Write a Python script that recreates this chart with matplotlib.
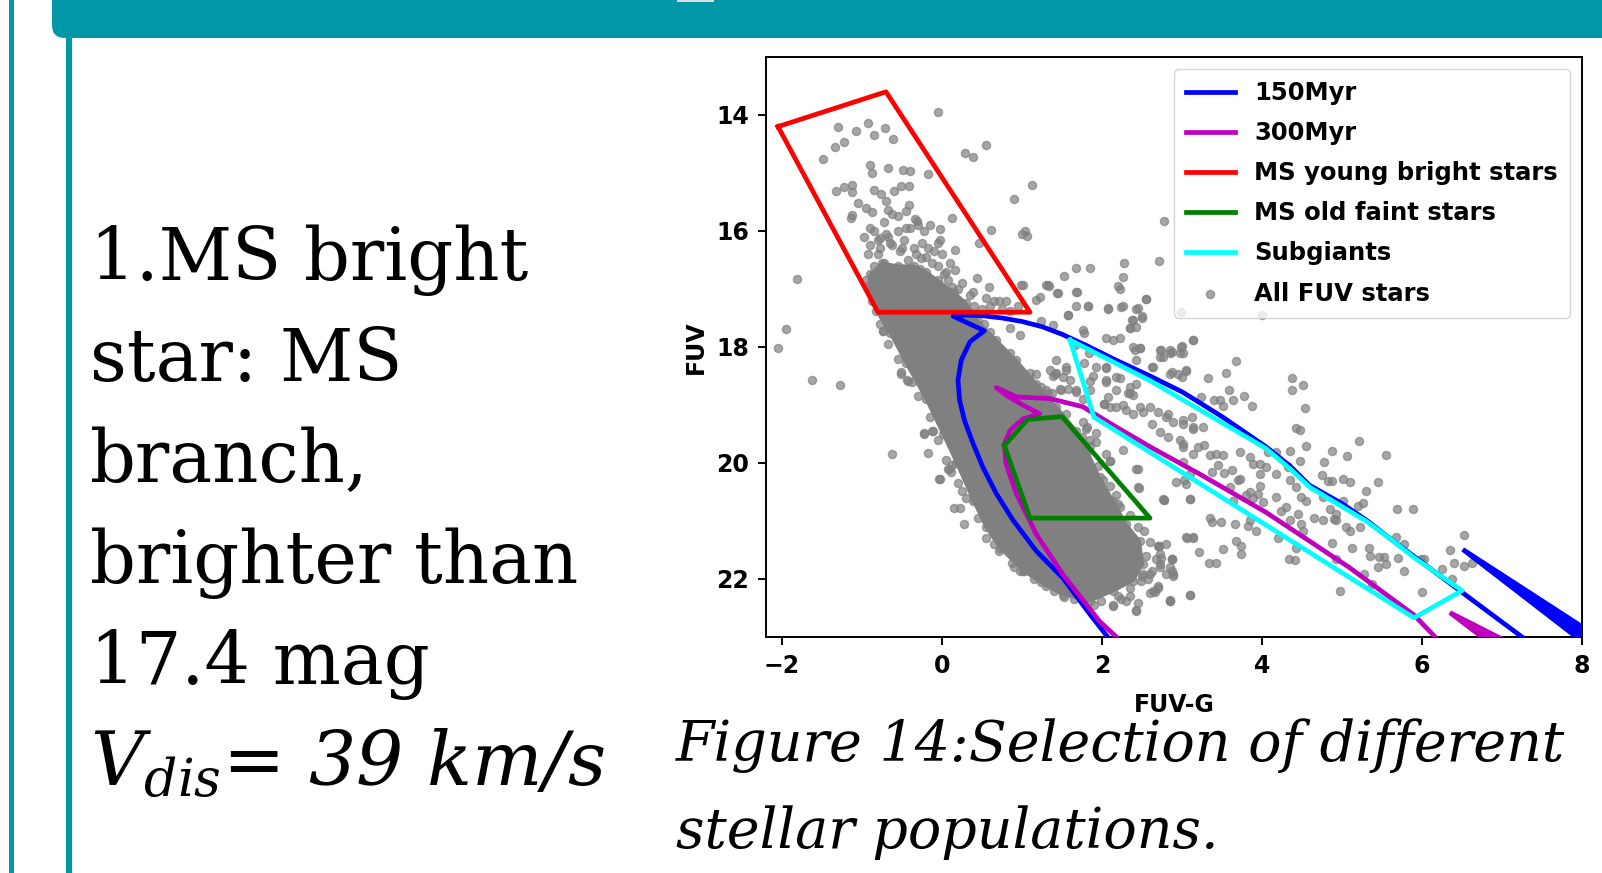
import matplotlib
matplotlib.use("Agg")
import matplotlib.pyplot as plt
from matplotlib.patches import Rectangle, FancyBboxPatch

plt.rcParams["mathtext.fontset"] = "custom"
plt.rcParams["mathtext.rm"] = "DejaVu Serif"
plt.rcParams["mathtext.it"] = "DejaVu Serif:italic"

# ---------------- data ----------------
# 150 Myr isochrone: main sequence, turn-off hook, then the evolved branch
iso150_color = [2.10, 1.85, 1.51, 1.18, 0.89, 0.68, 0.51, 0.39, 0.28, 0.22, 0.20, 0.24, 0.35, 0.53,
                0.14, 0.30, 0.50, 0.75, 1.00, 1.25, 1.50, 1.80, 2.18, 2.60, 3.01, 3.50, 4.05, 4.35, 4.59,
                5.00, 5.30, 5.60, 5.89, 6.51, 7.30]
iso150_mag = [23.05, 22.61, 21.98, 21.52, 20.99, 20.53, 20.07, 19.67, 19.26, 18.92, 18.57, 18.23, 17.91, 17.72,
              17.47, 17.45, 17.46, 17.50, 17.56, 17.65, 17.78, 17.97, 18.23, 18.50, 18.78, 19.20, 19.72, 20.05,
              20.38, 20.70, 20.98, 21.30, 21.60, 22.24, 23.05]
iso150_tail_color = [6.51, 8.20, 7.93]
iso150_tail_mag = [21.49, 23.00, 23.00]

# 300 Myr isochrone
iso300_color = [2.22, 1.97, 1.51, 1.18, 0.93, 0.80, 0.78, 0.85, 1.01, 1.22, 1.01, 0.80, 0.68,
                0.93, 1.35, 1.76, 2.18, 2.60, 3.22, 4.05, 5.09, 5.90, 6.20]
iso300_mag = [23.05, 22.73, 21.92, 21.23, 20.53, 20.01, 19.67, 19.44, 19.24, 19.15, 19.00, 18.83, 18.70,
              18.86, 18.89, 19.03, 19.38, 19.72, 20.19, 20.85, 21.80, 22.62, 23.05]
iso300_tail_color = [6.35, 6.95, 6.75]
iso300_tail_mag = [22.58, 23.00, 23.00]

# selection boxes
young_color = [-2.05, -0.70, 1.10, -0.80, -2.05]
young_mag = [14.20, 13.60, 17.40, 17.40, 14.20]

old_color = [0.78, 1.07, 1.50, 2.60, 1.10, 0.78]
old_mag = [19.70, 19.25, 19.20, 20.95, 20.95, 19.70]

subg_color = [1.60, 2.60, 4.05, 4.35, 4.60, 5.30, 5.60, 5.90, 6.50, 5.90, 1.90, 1.60]
subg_mag = [17.88, 18.58, 19.75, 20.10, 20.42, 21.00, 21.30, 21.63, 22.20, 22.67, 19.21, 17.88]

# outline of the densely populated main-sequence core
core_color = [-0.90, -0.75, -0.55, -0.35, -0.20, -0.05, 0.15, 0.30, 0.45, 0.68, 0.93, 1.18, 1.43, 1.68,
              1.82, 1.97, 2.14, 2.30, 2.47, 2.51, 2.39, 2.14, 1.85, 1.51, 1.30, 1.01, 0.72, 0.55, 0.39,
              0.18, 0.01, -0.20, -0.45, -0.65, -0.82, -0.92]
core_mag = [16.75, 16.55, 16.60, 16.60, 16.70, 16.85, 17.05, 17.24, 17.55, 17.88, 18.23, 18.63, 19.03, 19.44,
            19.80, 20.25, 20.65, 21.05, 21.34, 21.75, 22.03, 22.21, 22.38, 22.27, 22.12, 21.86, 21.46, 21.11,
            20.65, 20.00, 19.50, 18.90, 18.28, 17.76, 17.38, 16.95]

# individual FUV stars outside the dense core
star_color = [
    -0.05, 0.55, 0.29, 0.39, 1.12, 0.90, 1.04, 1.06, 1.00, 0.61, 0.46, 2.78, 2.71, 2.28, 2.26, 1.67, 1.85,
    1.53, 1.30, 1.34, 1.22, 1.18, 1.44, 1.68, 2.22, 2.55, 1.68, 1.83, 2.07, 2.24, 2.45, 2.50, 2.38, 2.35,
    1.58, 1.01, 0.80, 0.71, 0.59, 0.44, 0.39, 0.12, 0.16, 0.16, 0.12, 2.99, 4.00,
    1.76, 1.78, 2.05, 2.14, 2.22, 1.84, 1.66, 2.05, 1.89, 1.85, 2.05, 2.18, 2.39, 2.47, 2.73, 2.85, 2.72,
    2.62, 2.85, 2.43, 2.35, 2.10, 1.39, 1.43, 1.55, 1.49, 1.58, 1.68, 1.32, 1.43, 0.97, 0.85, 1.18, 1.03,
    -1.95, -2.05, -1.81, -1.62, -1.27, -0.74, -0.51, -0.42, -0.22, -0.11, -0.62, -0.17, -0.03, 0.09, 0.11,
    0.15, 0.22, 0.28, 0.25, 0.41,
    -1.30, -1.07, -0.92, -0.85, -0.71, -0.61, -1.23, -1.34, -1.49, -0.90, -0.88, -0.67, -0.49, -0.40, -0.17,
    -1.32, -1.22, -1.13, -1.12, -0.85, -0.76, -0.70, -0.60, -0.51, -0.41, -1.05, -0.95, -0.87, -1.13, -1.14,
    -0.68, -0.41, -0.90, -0.77, -0.72, -0.40, -0.34, -0.31, -0.15, -0.03, -0.03, -0.26,
    -0.97, -0.90, -0.85, -0.80, -0.70, -0.65, -0.55, -0.50, -0.45, -0.35, -0.30, -0.25, -0.20, -0.10,
    -0.05, 0.00, 0.05, 0.10, 0.20, 0.25, 0.35, 0.40, 0.50, 0.60, 0.65, 0.55, 0.75, 0.85, 0.95, -0.62,
    -0.55, -0.45, -0.80,
    -0.92, -0.85, -0.78, -0.72, -0.62, -0.58, -0.48, -0.42, -0.33, -0.28, -0.18, -0.12, -0.05, 0.02, 0.08,
    -0.95, -0.88, -0.68, -0.52, -0.22,
    -0.88, -0.78, -0.68, -0.55, -0.38, -0.30, -0.15, -0.05, 0.05, 0.20, 0.30, 0.45, 0.55, 0.65, 0.90, 1.15,
    1.40, 1.65, 1.90, 2.20, 2.35, 2.50, 2.55, 2.45, 2.35, 2.20, 2.10, 1.95, 1.85, 1.75, 1.55, 1.30, 1.10,
    0.85, 0.60, 0.52,
    0.71, 0.87, 0.98, 1.03, 1.24, 1.53, 1.76, 1.81, 1.93, 2.26, 2.10, 2.01, 2.45, 2.46, 2.77, 2.18, 2.22,
    2.60, 2.71, 2.53, 2.74, 2.87, 2.80, 2.89, 2.62, 2.58, 2.49, 2.60, 2.70, 2.45, 2.43, 2.35, 2.24, 2.14,
    1.99, 2.85, 2.93, 2.03,
    3.14, 2.74, 2.85, 2.98, 3.00, 3.67, 3.55, 3.33, 3.05, 3.00, 2.95, 3.59, 3.77, 3.64, 3.88, 3.48, 3.51,
    3.40, 3.24, 4.38, 4.51, 4.38, 4.54, 4.43, 4.48, 4.55, 4.35, 4.48, 4.87, 5.06, 5.21, 5.55, 4.78, 4.75,
    4.83, 4.88, 5.01, 5.10, 5.45, 5.30, 5.26, 5.20, 5.69, 5.89, 5.01, 4.85, 4.76, 4.90, 4.93, 4.65, 5.05,
    5.10, 5.22, 4.87, 5.12, 5.34, 5.35, 5.46, 5.53, 5.55, 5.45, 5.68, 5.78, 5.70, 5.77, 6.02, 5.99, 5.28,
    5.38, 6.00, 6.25, 6.35, 6.40, 6.52, 6.53, 6.63, 6.37, 4.97, 4.43, 4.34, 4.41, 4.93, 4.20, 3.89, 3.64,
    3.66, 3.74, 3.74, 3.68, 3.51, 3.93, 3.82, 3.85, 3.35, 3.37, 3.49, 3.10, 3.21, 3.06, 3.14, 3.34, 3.43,
    3.10, 2.85, 2.77, 2.71, 2.68, 2.72, 2.87, 2.70, 2.66, 2.85, 2.89,
    3.01, 3.14, 3.26, 3.01, 3.20, 3.28, 3.35, 3.43, 3.51, 3.45, 3.37, 3.53, 3.62, 3.72, 3.85, 3.80, 3.95,
    4.01, 3.97, 4.05, 4.18, 4.18, 4.24, 4.30, 4.35, 4.45, 4.49, 4.51, 3.97, 3.70, 3.60, 3.72, 3.85, 3.89,
    3.97, 4.08, 4.18, 4.33, 4.35, 4.43, 4.49, 4.55, 4.76, 4.93,
    -0.74, -0.51, -0.44, -0.22, -0.12, -0.04, 0.07, 0.13, 0.99, 1.33, 1.45, 1.69, 1.82, 1.58, 2.07, 2.26,
    2.43, 2.39, 2.50, 2.20, 2.55, 3.14, 2.35, 2.43, 1.24, 1.39, 2.41, 2.47, 2.87, 2.99, 3.01, 2.43, 2.76,
    2.64, 2.87, 3.05, 1.78, 1.93, 1.35, 1.41, 1.51, 1.60, 1.55, 1.47, 1.24, 1.37, 1.68, 1.76, 1.85, 2.05,
    2.18, 2.22, 2.05, 2.35, 2.33, 2.39, 2.03, 2.08, 2.18, 2.26, 2.30, 2.47, 2.39, 2.51, 2.60, 2.70, 2.80,
    2.82, 2.89, 3.01, 3.12, 3.14, 2.62, 2.72, 2.82, 2.97, 3.01, 3.14, 3.01, 3.10, 3.05, 1.80, 1.93, 1.85,
    2.05, 2.10, 2.43, 2.45, 2.76, 3.10, 3.03, 3.05, 3.14, 2.70, 2.80, 2.72, 2.87, 2.72, 2.87, 2.51, 2.60,
    2.64, 3.10, 2.85, 2.43, 2.30, 2.14,
]
star_mag = [
    13.94, 14.51, 14.65, 14.72, 15.21, 15.44, 16.00, 16.08, 16.06, 15.99, 16.20, 15.83, 16.52, 16.56, 16.80,
    16.64, 16.64, 16.77, 16.93, 16.95, 17.13, 17.19, 17.07, 17.05, 17.00, 17.17, 17.30, 17.30, 17.33, 17.31,
    17.33, 17.50, 17.53, 17.67, 17.45, 16.93, 17.21, 17.21, 16.96, 16.81, 17.06, 15.77, 16.32, 16.67, 16.96,
    17.39, 17.45,
    17.70, 17.76, 17.85, 17.88, 17.85, 18.11, 17.96, 18.34, 18.50, 18.58, 18.57, 18.74, 18.00, 18.02, 18.05,
    18.05, 18.17, 18.34, 18.46, 18.63, 18.80, 19.03, 18.50, 18.45, 18.34, 18.75, 18.72, 18.74, 18.80, 18.23,
    17.79, 17.68, 18.46, 18.46,
    17.69, 18.02, 16.83, 18.57, 18.65, 17.73, 18.46, 18.58, 19.50, 19.44, 19.85, 19.83, 20.27, 20.10, 20.16,
    20.77, 20.77, 21.05, 20.48, 20.63,
    14.20, 14.27, 14.13, 14.34, 14.23, 14.42, 14.47, 14.55, 14.76, 14.86, 15.00, 14.91, 14.95, 14.97, 15.02,
    15.31, 15.25, 15.20, 15.33, 15.30, 15.37, 15.48, 15.31, 15.22, 15.22, 15.52, 15.60, 15.68, 15.72, 15.78,
    15.64, 15.55, 15.95, 16.12, 15.85, 15.95, 15.80, 15.83, 15.89, 15.97, 16.15, 16.46,
    16.10, 16.25, 16.00, 16.15, 16.05, 16.20, 16.00, 16.30, 15.95, 16.30, 15.90, 16.20, 16.45, 16.35,
    16.60, 16.40, 16.70, 16.55, 17.00, 16.90, 17.10, 17.30, 17.35, 17.30, 17.20, 17.15, 17.35, 17.38, 17.30,
    15.70, 15.75, 15.65, 16.40,
    16.40, 16.60, 16.30, 16.55, 16.25, 16.65, 16.15, 16.50, 16.40, 16.65, 16.30, 16.55, 16.20, 16.75, 16.85,
    16.85, 16.95, 16.10, 16.35, 16.00,
    17.20, 17.60, 17.95, 18.20, 18.60, 18.85, 19.20, 19.60, 19.95, 20.35, 20.60, 20.95, 21.30, 21.40, 21.80,
    22.00, 22.20, 22.35, 22.45, 22.30, 22.15, 21.95, 21.60, 21.10, 20.90, 20.70, 20.40, 20.05, 19.70, 19.55,
    19.15, 18.75, 18.45, 18.10, 17.75, 17.60,
    21.52, 21.72, 21.86, 21.86, 22.06, 22.31, 19.29, 19.38, 19.64, 19.78, 19.96, 20.30, 20.11, 20.43, 20.63,
    20.56, 20.76, 21.37, 21.43, 21.17, 21.63, 21.66, 21.92, 21.95, 21.86, 22.00, 22.03, 22.24, 22.12, 22.41,
    22.54, 22.30, 22.35, 22.45, 22.38, 22.38, 20.33, 18.98,
    17.88, 18.05, 18.10, 18.10, 17.99, 18.24, 18.44, 18.53, 18.41, 18.52, 18.47, 18.74, 18.84, 18.91, 19.02,
    18.91, 19.02, 18.91, 18.87, 18.53, 18.66, 18.74, 19.06, 19.39, 19.43, 19.71, 19.80, 19.96, 19.79, 19.88,
    19.62, 19.87, 19.99, 20.20, 20.31, 20.31, 20.27, 20.33, 20.33, 20.49, 20.69, 20.75, 20.80, 20.80, 20.65,
    20.79, 20.99, 20.97, 20.99, 20.95, 21.11, 21.17, 21.11, 21.38, 21.47, 21.46, 21.60, 21.62, 21.62, 21.75,
    21.79, 21.27, 21.39, 21.64, 21.87, 21.66, 21.66, 21.91, 22.08, 22.22, 21.83, 21.50, 21.72, 21.77, 21.25,
    21.72, 22.00, 22.21, 21.47, 21.65, 21.68, 21.66, 21.30, 20.61, 20.65, 21.05, 21.43, 21.57, 21.35, 21.49,
    21.17, 21.08, 20.99, 20.94, 21.02, 21.02, 20.62, 21.53, 21.30, 21.30, 21.72, 21.72, 22.28, 22.37, 20.63,
    21.43, 21.66, 21.74, 21.66, 22.15, 22.22, 21.80, 21.92,
    19.32, 19.41, 19.38, 19.67, 19.73, 19.69, 19.87, 19.85, 19.87, 20.04, 20.16, 20.18, 20.12, 20.27, 20.50,
    20.56, 20.53, 20.68, 20.19, 20.07, 20.19, 20.59, 20.82, 20.76, 20.99, 20.88, 21.05, 21.17, 20.39, 20.30,
    20.42, 19.81, 19.90, 20.01, 20.01, 19.81, 19.81, 20.07, 20.30, 20.42, 20.59, 20.65, 20.59, 20.88,
    17.73, 18.43, 18.57, 19.49, 19.44, 20.27, 20.10, 20.04, 16.93, 16.93, 17.07, 17.06, 17.30, 17.45, 17.35,
    17.30, 17.35, 17.53, 17.47, 16.94, 17.17, 17.88, 17.68, 17.66, 17.56, 17.62, 18.06, 18.02, 18.08, 18.00,
    18.11, 18.23, 18.17, 18.34, 18.43, 18.40, 18.28, 18.34, 18.40, 18.46, 18.51, 18.57, 18.40, 18.72, 18.69,
    18.80, 18.77, 18.89, 18.74, 18.37, 18.51, 18.54, 18.60, 18.69, 18.80, 18.83, 18.98, 18.86, 19.03, 19.00,
    19.09, 19.03, 19.15, 19.12, 19.03, 19.12, 19.21, 19.15, 19.29, 19.26, 19.21, 19.38, 19.32, 19.47, 19.55,
    19.61, 19.73, 19.84, 19.99, 20.19, 20.36, 19.41, 19.49, 19.61, 19.84, 19.96, 20.10, 20.42, 20.62, 20.62,
    20.30, 21.28, 21.28, 21.43, 21.40, 21.57, 21.66, 21.80, 21.86, 21.92, 21.92, 22.21, 22.27, 22.38, 22.55,
    22.38, 22.47,
]

x_ticks = [-2, 0, 2, 4, 6, 8]
y_ticks = [14, 16, 18, 20, 22]

legend_labels = ["150Myr", "300Myr", "MS young bright stars", "MS old faint stars", "Subgiants", "All FUV stars"]

bullet_lines = ["1.MS bright", "star: MS", "branch,", "brighter than", "17.4 mag"]
velocity_line = r"$V_{dis}$= 39 km/s"
caption_lines = ["Figure 14:Selection of different", "stellar populations."]

# ---------------- figure ----------------
W, H = 1602, 873
fig = plt.figure(figsize=(W / 100, H / 100), dpi=100)
fig.patch.set_facecolor("white")
teal = "#0097a7"
inch = fig.dpi_scale_trans

# slide decoration: header bar and the two vertical rules
fig.add_artist(FancyBboxPatch((0.52, (H - 38) / 100), 16.5, 1.0,
                              boxstyle="round,pad=0,rounding_size=0.13",
                              transform=inch, facecolor=teal, edgecolor="none", zorder=0))
fig.add_artist(Rectangle((6.77, (H - 2) / 100), 0.37, 0.03, transform=inch,
                         facecolor="#dcdcdc", edgecolor="none", zorder=1))
fig.add_artist(Rectangle((0.09, 0), 0.05, H / 100, transform=inch,
                         facecolor=teal, edgecolor="none", zorder=0))
fig.add_artist(Rectangle((0.66, 0), 0.06, (H - 38) / 100, transform=inch,
                         facecolor=teal, edgecolor="none", zorder=0))

# ---------------- CMD panel ----------------
ax = fig.add_axes([766 / W, (H - 637) / H, 816 / W, 580 / H])
star_style = dict(color="grey", alpha=0.7, s=34, linewidths=1.0)
ax.fill(core_color, core_mag, facecolor="#808080", edgecolor="#808080", linewidth=2, zorder=1)
ax.scatter(core_color, core_mag, zorder=1.2, **star_style)
stars = ax.scatter(star_color, star_mag, zorder=1.2, **star_style)

lw = 3.4
l150, = ax.plot(iso150_color, iso150_mag, color="blue", lw=lw, zorder=3)
ax.fill(iso150_tail_color, iso150_tail_mag, facecolor="blue", edgecolor="blue", lw=lw, zorder=3)
l300, = ax.plot(iso300_color, iso300_mag, color="m", lw=lw, zorder=3)
ax.fill(iso300_tail_color, iso300_tail_mag, facecolor="m", edgecolor="m", lw=lw, zorder=3)
lyoung, = ax.plot(young_color, young_mag, color="red", lw=lw, zorder=4)
lold, = ax.plot(old_color, old_mag, color="green", lw=lw, zorder=4)
lsub, = ax.plot(subg_color, subg_mag, color="cyan", lw=lw, zorder=4)

ax.set_xlim(-2.2, 8)
ax.set_ylim(23, 13)
ax.set_xticks(x_ticks)
ax.set_yticks(y_ticks)
ax.tick_params(labelsize=17, width=1.4, length=6, pad=6)
for lbl in ax.get_xticklabels() + ax.get_yticklabels():
    lbl.set_fontweight("bold")
for sp in ax.spines.values():
    sp.set_linewidth(1.4)
ax.set_xlabel("FUV-G", fontsize=17, fontweight="bold", labelpad=11)
ax.set_ylabel("FUV", fontsize=17, fontweight="bold", labelpad=6)

leg = ax.legend([l150, l300, lyoung, lold, lsub, stars], legend_labels,
                loc="upper right", prop={"weight": "bold", "size": 17.5},
                labelspacing=0.66, handlelength=2.0, borderpad=0.5)
leg.set_zorder(6)

# ---------------- slide text ----------------
renderer = fig.canvas.get_renderer()


def fx(px):
    return px / W


def fy(py):
    return 1 - py / H


def width_px(t):
    return t.get_window_extent(renderer).width


body = []
for i, line in enumerate(bullet_lines):
    body.append(fig.text(fx(90), fy(280 + 101 * i), line, family="DejaVu Serif",
                         fontsize=60, va="baseline", ha="left", color="black"))
vel = fig.text(fx(90), fy(280 + 101 * 5), velocity_line, family="DejaVu Serif",
               style="italic", fontsize=60, va="baseline", ha="left", color="black")

scale = 0.5 * (433 / width_px(body[0]) + 494 / width_px(body[3]))
for t in body:
    t.set_fontsize(60 * scale)
vel.set_fontsize(60 * 515 / width_px(vel))

caps = []
for i, line in enumerate(caption_lines):
    caps.append(fig.text(fx(676), fy(761 + 87 * i), line, family="DejaVu Serif",
                         style="italic", fontsize=48, va="baseline", ha="left",
                         color="black", zorder=10))
cap_size = 48 * 889 / width_px(caps[0])
for t in caps:
    t.set_fontsize(cap_size)

fig.savefig("out.png", dpi=100, facecolor="white")
